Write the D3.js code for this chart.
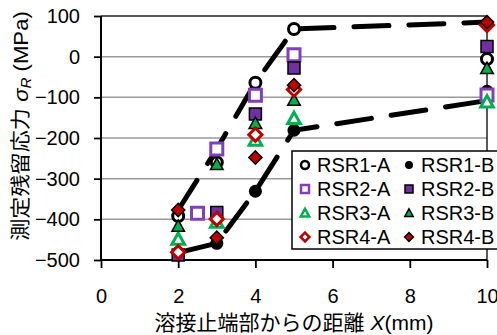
<!DOCTYPE html>
<html><head><meta charset="utf-8">
<script src="https://cdn.jsdelivr.net/npm/d3@7"></script>
<style>
body{margin:0;background:#fff}
svg{display:block}
text{font-family:"Liberation Sans",Arial,"Noto Sans CJK JP",sans-serif;fill:#000}
</style>
</head><body>
<svg id="c" width="497" height="335"></svg>
<script>
// ---- data ----
const xPositions = [2, 3, 4, 5, 10];
const xPositionsRSR2A = [2.5, 3, 4, 5, 10];
const seriesNames = ["RSR1-A","RSR1-B","RSR2-A","RSR2-B","RSR3-A","RSR3-B","RSR4-A","RSR4-B"];
const rsr1A = [-392, -260, -64, 68, -6];
const rsr1B = [-482, -459, -331, -181, -85];
const rsr2A = [-385, -227, -95, 5, -94];
const rsr2B = [-488, -383, -141, -28, 25];
const rsr3A = [-449, -407, -205, -152, -111];
const rsr3B = [-417, -265, -164, -107, -29];
const rsr4A = [-481, -399, -192, -81, 78];
const rsr4B = [-377, -445, -248, -70, 85];
const upperEnvelope = [-377, -227, -64, 68, 85];
const lowerEnvelope = [-482, -459, -331, -181, -108];
const xTicks = [0, 2, 4, 6, 8, 10];
const yTicks = [100, 0, -100, -200, -300, -400, -500];
const gridValues = [0, -100, -200, -300, -400];

const C = {black:"#000", purple:"#7030A0", purpleOpen:"#8040B8", green:"#00B050", red:"#C00000"};
const series = [
  {name:seriesNames[0], xs:xPositions, v:rsr1A, shape:"circle", open:true, color:C.black},
  {name:seriesNames[1], xs:xPositions, v:rsr1B, shape:"circle", open:false, color:C.black},
  {name:seriesNames[2], xs:xPositionsRSR2A, v:rsr2A, shape:"square", open:true, color:C.purpleOpen},
  {name:seriesNames[3], xs:xPositions, v:rsr2B, shape:"square", open:false, color:C.purple},
  {name:seriesNames[4], xs:xPositions, v:rsr3A, shape:"triangle", open:true, color:C.green},
  {name:seriesNames[5], xs:xPositions, v:rsr3B, shape:"triangle", open:false, color:C.green},
  {name:seriesNames[6], xs:xPositions, v:rsr4A, shape:"diamond", open:true, color:C.red},
  {name:seriesNames[7], xs:xPositions, v:rsr4B, shape:"diamond", open:false, color:C.red}
];

const svg = d3.select("#c");
const x = d3.scaleLinear().domain([0, 10]).range([101, 487]);
const y = d3.scaleLinear().domain([-500, 100]).range([260, 16]);

// gridlines
svg.append("g").selectAll("line").data(gridValues).join("line")
  .attr("x1", x(0)).attr("x2", x(10))
  .attr("y1", d => y(d)).attr("y2", d => y(d))
  .attr("stroke", "#9a9a9a").attr("stroke-width", 1.5);

// frame top & right
svg.append("line").attr("x1", x(0)).attr("x2", x(10)).attr("y1", y(100)).attr("y2", y(100))
  .attr("stroke", "#222").attr("stroke-width", 1.5);
svg.append("line").attr("x1", x(10)).attr("x2", x(10)).attr("y1", y(100)).attr("y2", y(-500))
  .attr("stroke", "#222").attr("stroke-width", 1.5);

// axes
const yAxis = svg.append("g").attr("transform", `translate(${x(0)},0)`)
  .call(d3.axisLeft(y).tickValues(yTicks).tickSize(7).tickPadding(14).tickFormat(d3.format("d")));
const xAxis = svg.append("g").attr("transform", `translate(0,${y(-500)})`)
  .call(d3.axisBottom(x).tickValues(xTicks).tickSize(8).tickPadding(21).tickFormat(d3.format("d")));
[yAxis, xAxis].forEach(g => {
  g.select(".domain").attr("stroke", "#000").attr("stroke-width", 2);
  g.selectAll(".tick line").attr("stroke", "#000").attr("stroke-width", 1.8);
  g.selectAll(".tick text").attr("font-size", 20).style("font-family", '"Liberation Sans",Arial,sans-serif');
});
xAxis.select(".domain").attr("d", `M${x(0)},0H${x(10)}`);
yAxis.select(".domain").attr("d", `M0,${y(100)}V${y(-500)}`);

// envelope lines
const line = d3.line().x(d => x(d[0])).y(d => y(d[1]));
[upperEnvelope, lowerEnvelope].forEach(env => {
  svg.append("path").datum(xPositions.map((xv, i) => [xv, env[i]]))
    .attr("d", line).attr("fill", "none").attr("stroke", "#000")
    .attr("stroke-width", 5).attr("stroke-linecap", "round")
    .attr("stroke-dasharray", "35,20");
});

// marker shapes
function shapePath(shape, s) {
  const h = s / 2;
  if (shape === "circle") return d3.symbol(d3.symbolCircle, Math.PI * h * h)();
  if (shape === "square") return `M${-h},${-h}H${h}V${h}H${-h}Z`;
  if (shape === "triangle") return `M0,${-h * 1.05}L${h * 1.05},${h * 0.85}L${-h * 1.05},${h * 0.85}Z`;
  if (shape === "diamond") return `M0,${-h * 1.1}L${h * 1.1},0L0,${h * 1.1}L${-h * 1.1},0Z`;
}
function drawMarker(g, s, size, strokeW) {
  const p = g.append("path").attr("d", shapePath(s.shape, size));
  if (s.open) {
    p.attr("fill", "#fff").attr("stroke", s.color).attr("stroke-width", strokeW);
  } else {
    p.attr("fill", s.color).attr("stroke", "#000").attr("stroke-width", s.shape === "circle" ? 0 : 1.5);
  }
}

series.forEach(s => {
  s.v.forEach((val, i) => {
    const g = svg.append("g").attr("transform", `translate(${x(s.xs[i])},${y(val)})`);
    drawMarker(g, s, s.shape === "circle" ? (s.open ? 11 : 13) : 12, 3);
  });
});

// legend
const lg = svg.append("g");
lg.append("rect").attr("x", 292).attr("y", 151).attr("width", 215).attr("height", 98)
  .attr("fill", "#fff").attr("stroke", "#000").attr("stroke-width", 1.5);
series.forEach((s, i) => {
  const col = i % 2, row = Math.floor(i / 2);
  const mx = col === 0 ? 305 : 409, my = 165 + row * 24;
  const g = lg.append("g").attr("transform", `translate(${mx},${my})`);
  drawMarker(g, s, 8, 2.5);
  lg.append("text").attr("x", mx + 12).attr("y", my).attr("dy", "0.36em")
    .attr("font-size", 20).text(s.name);
});

// axis titles
const xt = svg.append("text").attr("x", 294).attr("y", 322).attr("text-anchor", "middle")
  .attr("dominant-baseline", "central").attr("font-size", 21);
xt.append("tspan").text("溶接止端部からの距離 ");
xt.append("tspan").attr("font-style", "italic").text("X");
xt.append("tspan").text("(mm)");

const yt = svg.append("text").attr("transform", "translate(21,126) rotate(-90) scale(1.08,1)")
  .attr("text-anchor", "middle").attr("dominant-baseline", "central").attr("font-size", 20.5);
yt.append("tspan").text("測定残留応力 ");
yt.append("tspan").attr("font-style", "italic").text("σ");
yt.append("tspan").attr("font-style", "italic").attr("font-size", 14).attr("dy", 5).text("R");
yt.append("tspan").attr("dy", -5).text(" (MPa)");
</script>
</body></html>
